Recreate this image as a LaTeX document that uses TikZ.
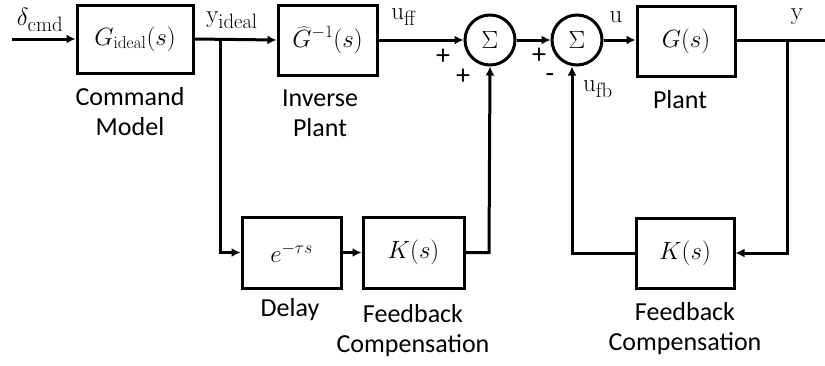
\documentclass[tikz,border=0pt]{standalone}
\usepackage[no-math]{fontspec}
\setmainfont{Carlito}
\usetikzlibrary{arrows.meta}
\begin{document}
\begin{tikzpicture}[x=1pt,y=-1pt,
  blk/.style={draw,line width=3pt,rectangle,inner sep=0pt,font=\fontsize{26}{30}\selectfont},
  sumc/.style={draw,line width=3pt,circle,minimum size=50pt,inner sep=0pt,font=\fontsize{25}{28}\selectfont},
  wire/.style={line width=3pt},
  arr/.style={line width=3pt,-{Latex[length=9pt,width=9pt]}},
  lbl/.style={font=\fontsize{26}{30}\selectfont,align=center,inner sep=0pt},
  pm/.style={font=\fontsize{28}{28}\selectfont,inner sep=0pt},
  sig/.style={font=\fontsize{29}{30}\selectfont,inner sep=0pt}]
\useasboundingbox (0,0) rectangle (825,365);
% blocks
\node[blk,minimum width=116pt,minimum height=68pt] (cmd) at (135,39) {$G_{\mathrm{ideal}}(s)$};
\node[blk,minimum width=99pt,minimum height=70pt] (inv) at (327.5,40) {$\widehat{G}^{-1}(s)$};
\node[sumc] (s1) at (490,40) {$\Sigma$};
\node[sumc] (s2) at (577,40) {$\Sigma$};
\node[blk,minimum width=98pt,minimum height=70pt] (plant) at (686,41) {\raisebox{4pt}{$G(s)$}};
\node[blk,minimum width=99pt,minimum height=71pt] (delay) at (291.5,252.5) {$e^{-\tau s}$};
\node[blk,minimum width=101pt,minimum height=71pt] (k1) at (413.5,252.5) {$K(s)$};
\node[blk,minimum width=98pt,minimum height=70pt] (k2) at (685,253) {$K(s)$};
% coordinates
\coordinate (in) at (12,39);
\coordinate (b1) at (220,39);
\coordinate (c1) at (220,252.5);
\coordinate (c2) at (489,252.5);
\coordinate (out) at (825,40);
\coordinate (b2) at (787,40);
\coordinate (c3) at (787,253);
\coordinate (c4) at (572,253);
% wires
\draw[arr] (in) -- (cmd.west);
\draw[arr] (cmd.east) -- (inv.west);
\draw[arr] (inv.east) -- (s1.west);
\draw[arr] (s1.east) -- (s2.west);
\draw[arr] (s2.east) -- (s2.east -| plant.west);
\draw[wire] (s2.east -| plant.east) -- (out);
\draw[arr] (b1) -- (c1) -- (delay.west);
\draw[arr] (delay.east) -- (k1.west);
\draw[arr] (k1.east) -- (c2) -- (s1.south);
\draw[arr] (b2) -- (c3) -- (k2.east);
\draw[arr] (k2.west) -- (c4) -- (c4 |- s2.south);
% signal labels
\node[sig] (ldcmd) at (40,20) {$\delta_{\mathrm{cmd}}$};
\node[sig] (lyid) at (232,20) {$\mathrm{y}_{\mathrm{ideal}}$};
\node[sig] (luff) at (404,17) {$\mathrm{u}_{\mathrm{ff}}$};
\node[sig] (lu) at (616,17) {$\mathrm{u}$};
\node[sig] (ly) at (797,17) {$\mathrm{y}$};
\node[sig] (lufb) at (598,89) {$\mathrm{u}_{\mathrm{fb}}$};
\node[pm] (p1) at (443,57) {+};
\node[pm] (p2) at (463,77) {+};
\node[pm] (p3) at (539,56) {+};
\node[pm] (m1) at (550,78) {-};
% block captions
\node[lbl] (tcmd) at (130,112) {Command\\Model};
\node[lbl] (tinv) at (320,113) {Inverse\\Plant};
\node[lbl] (tplant) at (680,100) {Plant};
\node[lbl] (tdelay) at (290,310) {Delay};
\node[lbl] (tk1) at (413,331) {Feedback\\Compensation};
\node[lbl] (tk2) at (685,329) {Feedback\\Compensation};
\end{tikzpicture}
\end{document}
